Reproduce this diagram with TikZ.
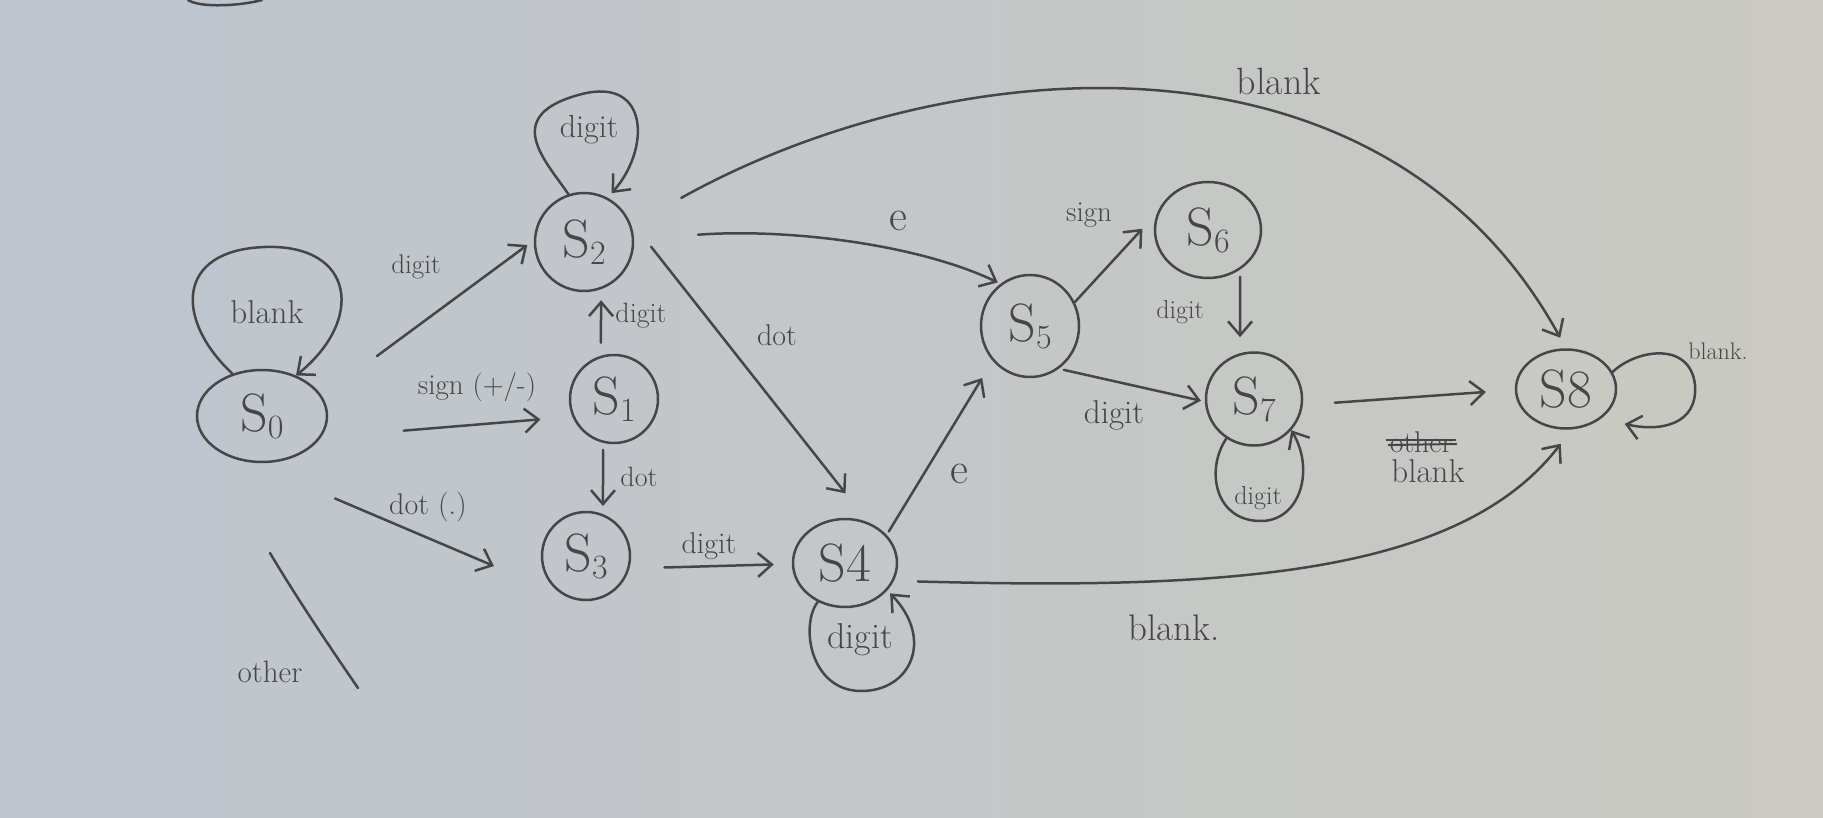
\documentclass[tikz,border=0pt]{standalone}
\usepackage{fontspec}
\usetikzlibrary{arrows.meta,shapes.geometric}
\definecolor{inkc}{RGB}{70,70,72}
\definecolor{paperl}{RGB}{190,197,205}
\definecolor{paperr}{RGB}{202,201,195}
\newcommand\Sst[1]{S\raisebox{-7pt}{\fontsize{34}{34}\selectfont #1}}
\begin{document}
\begin{tikzpicture}[x=1pt,y=-1pt,
  ink/.style={draw=inkc,line width=2.5pt,line cap=round,line join=round},
  st/.style={ink,ellipse,inner sep=0pt,text=inkc,font=\fontsize{54}{54}\selectfont},
  lbl/.style={text=inkc,inner sep=0pt,font=\fontsize{#1}{#1}\selectfont},
  lbl/.default=30,
  arr/.style={ink,-{Straight Barb[length=14pt,width=24pt]}},
]
\shade[left color=paperl,right color=paperr] (0,0) rectangle (1823,818);
\useasboundingbox (0,0) rectangle (1823,818);

% states
\node[st,minimum width=130pt,minimum height=92pt] (s0) at (262,416) {\Sst{0}};
\node[st,minimum width=98pt,minimum height=98pt] (s2) at (584,242) {\Sst{2}};
\node[st,minimum width=88pt,minimum height=88pt] (s1) at (614,399) {\Sst{1}};
\node[st,minimum width=88pt,minimum height=88pt] (s3) at (586,556) {\Sst{3}};
\node[st,minimum width=104pt,minimum height=88pt] (s4) at (845,563) {S4};
\node[st,minimum width=98pt,minimum height=102pt] (s5) at (1030,326) {\Sst{5}};
\node[st,minimum width=106pt,minimum height=96pt] (s6) at (1208,230) {\Sst{6}};
\node[st,minimum width=96pt,minimum height=93pt] (s7) at (1254,399) {\Sst{7}};
\node[st,minimum width=100pt,minimum height=79pt] (s8) at (1566,389) {S8};

% stray stroke at the top edge
\draw[ink] (188,0) .. controls (200,8) and (240,6) .. (262,0);

% self loops
\draw[arr] (s0.125) .. controls (175,320) and (175,250) .. (265,247) .. controls (355,244) and (365,320) .. (s0.50);
\draw[arr,shorten >=6pt] (s2.108) .. controls (545,160) and (500,115) .. (582,94) .. controls (650,77) and (650,150) .. (s2.62);
\draw[arr,shorten >=4pt] (s4.235) .. controls (800,625) and (810,690) .. (860,691) .. controls (910,692) and (935,640) .. (s4.327);
\draw[arr] (s7.235) .. controls (1205,470) and (1215,522) .. (1262,521) .. controls (1300,520) and (1315,470) .. (s7.320);
\draw[arr,shorten >=24pt] (s8.20) .. controls (1635,350) and (1690,340) .. (1695,385) .. controls (1698,425) and (1660,432) .. (s8.-40);

% transitions
\draw[arr,shorten <=68pt,shorten >=8pt] (s0.18) -- (s2.178);
\draw[arr,shorten <=83pt,shorten >=32pt] (s0.340) -- (s1.203);
\draw[arr,shorten <=92pt,shorten >=80pt] (s0.256) -- (s3.246);
\draw[arr,shorten <=13pt,shorten >=11pt] (s1.107) -- (s2.290);
\draw[arr,shorten <=7pt,shorten >=8pt] (s1.256) -- (s3.68);
\draw[arr,shorten <=35pt,shorten >=18pt] (s3.344) -- (s4.181);
\draw[arr,shorten <=38pt,shorten >=37pt] (s2.30) -- (s4.60);
\draw[arr,shorten <=64pt,shorten >=3pt] (s2.3) .. controls (790,228) and (920,245) .. (s5.125);
\draw[arr,shorten <=57pt,shorten >=12pt] (s2.19) .. controls (943,52) and (1380,10) .. (s8.90);
\draw[arr,shorten <=4pt,shorten >=20pt] (s4.34) -- (s5.223);
\draw[arr,shorten >=22pt] (s5.28) -- (s6.161);
\draw[arr,shorten <=7pt,shorten >=16pt] (s6.309) -- (s7.107);
\draw[arr,shorten <=5pt,shorten >=4pt] (s5.304) -- (s7.183);
\draw[arr,shorten <=32pt,shorten >=29pt] (s7.353) -- (s8.181);
\draw[arr,shorten <=24pt,shorten >=18pt] (s4.340) .. controls (1230,590) and (1460,575) .. (s8.278);

% dead-end "other" stroke
\coordinate (o1) at (270,553);
\coordinate (o2) at (358,688);
\draw[ink] (o1) .. controls (295,595) and (325,640) .. (o2);

% labels
\node[lbl=33] (lb0) at (267,312) {blank};
\node[lbl=32] (ld2) at (589,130) {digit};
\node[lbl=27] (l02) at (416,267) {digit};
\node[lbl=29] (l01) at (477,387) {sign (+/-)};
\node[lbl=30] (l03) at (428,507) {dot (.)};
\node[lbl=31] (loth) at (270,672) {other};
\node[lbl=28] (l12) at (641,316) {digit};
\node[lbl=28] (l13) at (639,477) {dot};
\node[lbl=30] (l34) at (709,546) {digit};
\node[lbl=30] (l24) at (777,335) {dot};
\node[lbl=44] (l25) at (898,221) {e};
\node[lbl=44] (l45) at (959,474) {e};
\node[lbl=29] (l56) at (1089,215) {sign};
\node[lbl=26] (l67) at (1180,312) {digit};
\node[lbl=33] (l57) at (1114,415) {digit};
\node[lbl=26] (ld7) at (1258,498) {digit};
\node[lbl=30] (lold) at (1421,442) {other};
\node[lbl=33] (l78) at (1428,471) {blank};
\node[lbl=24] (ld8) at (1718,351) {blank.};
\node[lbl=38] (l28) at (1279,81) {blank};
\node[lbl=37] (l48) at (1174,628) {blank.};
\node[lbl=36] (ld4) at (860,640) {digit};
\draw[ink,line width=2pt] ([xshift=-3pt,yshift=2pt]lold.west) -- ([xshift=3pt,yshift=2pt]lold.east);
\draw[ink,line width=2pt] ([xshift=-1pt,yshift=-3pt]lold.west) -- ([xshift=4pt,yshift=-2pt]lold.east);
\end{tikzpicture}
\end{document}
